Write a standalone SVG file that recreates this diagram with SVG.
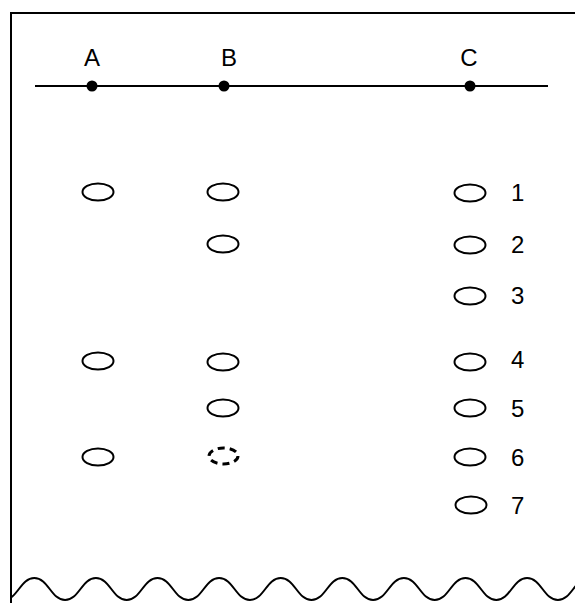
<svg xmlns="http://www.w3.org/2000/svg" width="575" height="603" viewBox="0 0 575 603">
<style>
.t{font-family:"Liberation Sans",Arial,sans-serif;font-size:24px;fill:#000}
.e{fill:none;stroke:#000;stroke-width:2}
.d{fill:none;stroke:#000;stroke-width:3;stroke-dasharray:7 5}
.l{fill:none;stroke:#000;stroke-width:2}
</style>
<defs>
<clipPath id="cp"><rect x="11" y="0" width="564" height="603"/></clipPath>
</defs>
<rect x="0" y="0" width="575" height="603" fill="#fff"/>
<g id="frame">
<path class="l" d="M11,603 V13 H576"/>
<path class="l" clip-path="url(#cp)" d="M3.5,600 c14,0 16.8,-22 30.8,-22 c14,0 16.8,22 30.8,22 c14,0 16.8,-22 30.8,-22 c14,0 16.8,22 30.8,22 c14,0 16.8,-22 30.8,-22 c14,0 16.8,22 30.8,22 c14,0 16.8,-22 30.8,-22 c14,0 16.8,22 30.8,22 c14,0 16.8,-22 30.8,-22 c14,0 16.8,22 30.8,22 c14,0 16.8,-22 30.8,-22 c14,0 16.8,22 30.8,22 c14,0 16.8,-22 30.8,-22 c14,0 16.8,22 30.8,22 c14,0 16.8,-22 30.8,-22 c14,0 16.8,22 30.8,22 c14,0 16.8,-22 30.8,-22 c14,0 16.8,22 30.8,22 c14,0 16.8,-22 30.8,-22 c14,0 16.8,22 30.8,22"/>
</g>
<g id="connectors">
<line class="l" x1="35" y1="86" x2="548" y2="86"/>
</g>
<g id="A"><circle cx="92" cy="86" r="5.5"/><text class="t" x="92" y="66" text-anchor="middle">A</text></g>
<g id="B"><circle cx="224" cy="86" r="5.5"/><text class="t" x="229" y="66" text-anchor="middle">B</text></g>
<g id="C"><circle cx="470" cy="86" r="5.5"/><text class="t" x="469" y="66" text-anchor="middle">C</text></g>
<g id="colA">
<ellipse class="e" cx="98" cy="192" rx="15.5" ry="8.5"/>
<ellipse class="e" cx="98" cy="361" rx="15.5" ry="8.5"/>
<ellipse class="e" cx="98" cy="457" rx="15.5" ry="8.5"/>
</g>
<g id="colB">
<ellipse class="e" cx="223" cy="192" rx="15.5" ry="8.5"/>
<ellipse class="e" cx="223" cy="244" rx="15.5" ry="8.5"/>
<ellipse class="e" cx="223" cy="362" rx="15.5" ry="8.5"/>
<ellipse class="e" cx="223" cy="408" rx="15.5" ry="8.5"/>
<ellipse class="d" cx="223.5" cy="456" rx="14.5" ry="8"/>
</g>
<g id="colC">
<ellipse class="e" cx="470" cy="193" rx="15.5" ry="8.5"/>
<ellipse class="e" cx="470" cy="245" rx="15.5" ry="8.5"/>
<ellipse class="e" cx="470" cy="296" rx="15.5" ry="8.5"/>
<ellipse class="e" cx="470" cy="362" rx="15.5" ry="8.5"/>
<ellipse class="e" cx="470" cy="408" rx="15.5" ry="8.5"/>
<ellipse class="e" cx="470" cy="457" rx="15.5" ry="8.5"/>
<ellipse class="e" cx="471" cy="505" rx="15.5" ry="8.5"/>
</g>
<g id="labels">
<text class="t" x="511" y="201">1</text>
<text class="t" x="511" y="253">2</text>
<text class="t" x="511" y="304">3</text>
<text class="t" x="511" y="368">4</text>
<text class="t" x="511" y="417">5</text>
<text class="t" x="511" y="466">6</text>
<text class="t" x="511" y="514">7</text>
</g>
</svg>
